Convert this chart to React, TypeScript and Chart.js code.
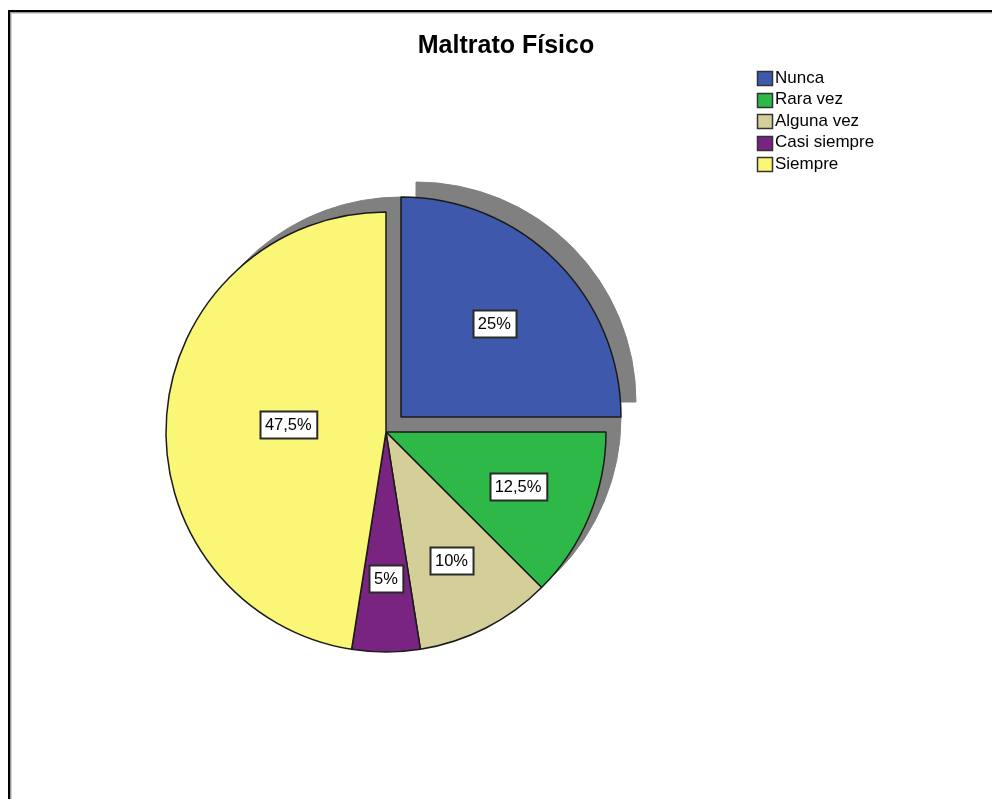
import React, { useEffect, useRef } from "react";
import { Chart, registerables } from "chart.js";

Chart.register(...registerables);

const chartTitle = "Maltrato Físico";
const categories = ["Nunca", "Rara vez", "Alguna vez", "Casi siempre", "Siempre"];
const percentages = [25, 12.5, 10, 5, 47.5];
const percentLabels = ["25%", "12,5%", "10%", "5%", "47,5%"];
const sliceColors = ["#3e58ac", "#2eb848", "#d4cf99", "#792480", "#faf776"];
const explodedCategory = "Nunca";

const FONT = '"Liberation Sans", Arial, sans-serif';
const SHADOW_DX = 15;
const SHADOW_DY = -15;
const EXPLODE = 15 * Math.SQRT2;

function arcShift(el: any): [number, number] {
  const off = (el.options.offset || 0) / 4;
  const mid = (el.startAngle + el.endAngle) / 2;
  return [Math.cos(mid) * off, Math.sin(mid) * off];
}

const framePlugin = {
  id: "frame",
  beforeDraw(chart: any) {
    const ctx = chart.ctx;
    ctx.save();
    ctx.fillStyle = "#ffffff";
    ctx.fillRect(0, 0, chart.width, chart.height);
    ctx.fillStyle = "#000000";
    ctx.fillRect(8, 10, 2, chart.height);
    ctx.fillRect(8, 10, chart.width, 2);
    ctx.fillStyle = "#9a9a9a";
    ctx.fillRect(10, 12, 1, chart.height);
    ctx.fillRect(10, 12, chart.width, 1);
    ctx.fillStyle = "#d4d4d4";
    ctx.fillRect(11, 13, 1, chart.height);
    ctx.fillRect(11, 13, chart.width, 1);
    ctx.restore();
  },
};

const shadowPlugin = {
  id: "pieShadow",
  beforeDatasetsDraw(chart: any) {
    const ctx = chart.ctx;
    const meta = chart.getDatasetMeta(0);
    ctx.save();
    ctx.fillStyle = "#808080";
    ctx.strokeStyle = "#808080";
    ctx.lineWidth = 1;
    meta.data.forEach((el: any) => {
      const { x, y, startAngle, endAngle, outerRadius } = el.getProps(
        ["x", "y", "startAngle", "endAngle", "outerRadius"],
        true
      );
      const [tx, ty] = arcShift(el);
      const cx = x + tx + SHADOW_DX;
      const cy = y + ty + SHADOW_DY;
      ctx.beginPath();
      ctx.moveTo(cx, cy);
      ctx.arc(cx, cy, outerRadius, startAngle, endAngle);
      ctx.closePath();
      ctx.fill();
      ctx.stroke();
    });
    ctx.restore();
  },
};

const labelPlugin = {
  id: "pieLabels",
  afterDatasetsDraw(chart: any) {
    const ctx = chart.ctx;
    const meta = chart.getDatasetMeta(0);
    ctx.save();
    ctx.font = `16.5px ${FONT}`;
    ctx.textAlign = "center";
    ctx.textBaseline = "middle";
    meta.data.forEach((el: any, i: number) => {
      const { x, y, startAngle, endAngle, outerRadius } = el.getProps(
        ["x", "y", "startAngle", "endAngle", "outerRadius"],
        true
      );
      const [tx, ty] = arcShift(el);
      const theta = endAngle - startAngle;
      const mid = (startAngle + endAngle) / 2;
      const d = (4 * outerRadius * Math.sin(theta / 2)) / (3 * theta);
      const lx = x + tx + Math.cos(mid) * d;
      const ly = y + ty + Math.sin(mid) * d;
      const text = percentLabels[i];
      const w = ctx.measureText(text).width + 10;
      const h = 27;
      const bx = Math.round(lx - w / 2) + 0.5;
      const by = Math.round(ly - h / 2) + 0.5;
      ctx.fillStyle = "#ffffff";
      ctx.fillRect(bx, by, w, h);
      ctx.strokeStyle = "#2a2a2a";
      ctx.lineWidth = 2;
      ctx.strokeRect(bx, by, w, h);
      ctx.fillStyle = "#000000";
      ctx.fillText(text, lx, ly + 1);
    });
    ctx.restore();
  },
};

const titleLegendPlugin = {
  id: "titleLegend",
  afterDraw(chart: any) {
    const ctx = chart.ctx;
    ctx.save();
    ctx.fillStyle = "#000000";
    ctx.font = `bold 25px ${FONT}`;
    ctx.textAlign = "center";
    ctx.textBaseline = "alphabetic";
    ctx.fillText(chartTitle, 506, 53);

    ctx.font = `17px ${FONT}`;
    ctx.textAlign = "left";
    ctx.textBaseline = "middle";
    categories.forEach((cat, i) => {
      const cy = 78 + i * 21.5;
      ctx.fillStyle = sliceColors[i];
      ctx.fillRect(757.5, Math.round(cy - 7) + 0.5, 15, 14);
      ctx.strokeStyle = "#333333";
      ctx.lineWidth = 1.5;
      ctx.strokeRect(757.5, Math.round(cy - 7) + 0.5, 15, 14);
      ctx.fillStyle = "#000000";
      ctx.fillText(cat, 775, cy);
    });
    ctx.restore();
  },
};

export default function App() {
  const canvasRef = useRef<HTMLCanvasElement | null>(null);

  useEffect(() => {
    if (!canvasRef.current) return;
    const chart = new Chart(canvasRef.current, {
      type: "pie",
      data: {
        labels: categories,
        datasets: [
          {
            data: percentages,
            backgroundColor: sliceColors,
            borderColor: "#1a1a1a",
            borderWidth: 1.5,
            offset: categories.map((c) => (c === explodedCategory ? EXPLODE * 4 : 0)),
          },
        ],
      },
      options: {
        responsive: false,
        animation: false,
        events: [],
        radius: 220,
        layout: { padding: { left: 136, right: 356, top: 182, bottom: 117 } },
        plugins: {
          legend: { display: false },
          title: { display: false },
          tooltip: { enabled: false },
        },
      } as any,
      plugins: [framePlugin, shadowPlugin, labelPlugin, titleLegendPlugin],
    });
    return () => chart.destroy();
  }, []);

  return (
    <div style={{ position: "fixed", left: 0, top: 0, width: 992, height: 799, background: "#fff" }}>
      <canvas ref={canvasRef} width={992} height={799} style={{ display: "block", width: 992, height: 799 }} />
    </div>
  );
}
